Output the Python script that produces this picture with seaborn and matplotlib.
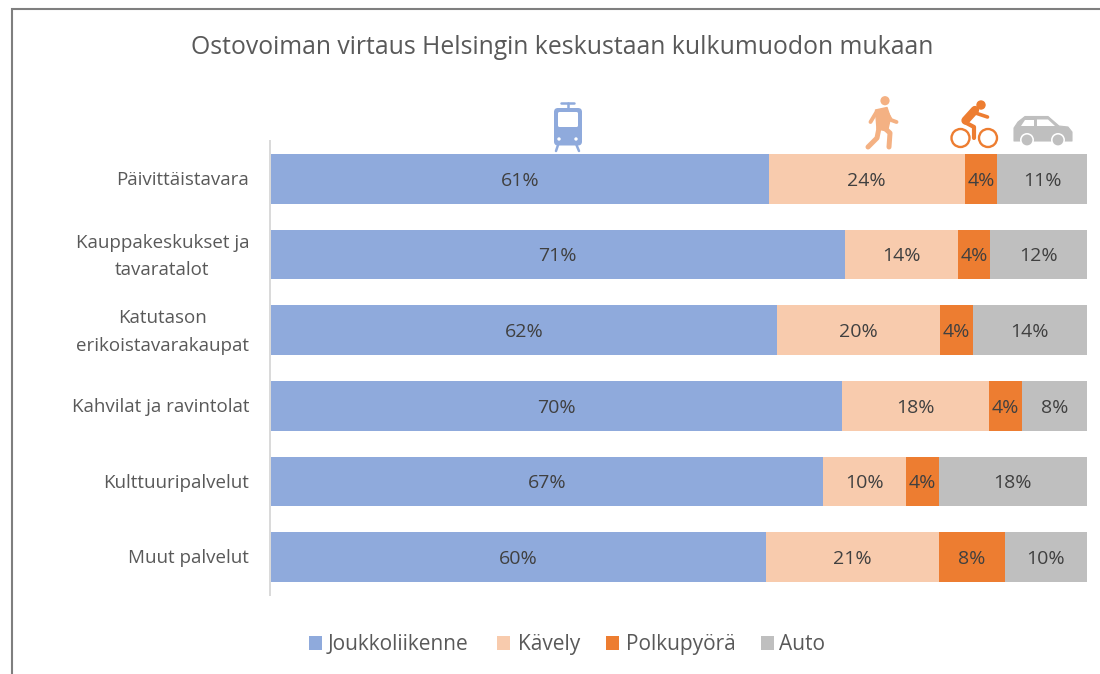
import numpy as np
import matplotlib
matplotlib.use("Agg")
import matplotlib.pyplot as plt
import seaborn as sns
from matplotlib.patches import Rectangle, Circle, FancyBboxPatch, Polygon
from matplotlib.transforms import Affine2D

categories = ["Päivittäistavara", "Kauppakeskukset ja\ntavaratalot", "Katutason\nerikoistavarakaupat",
              "Kahvilat ja ravintolat", "Kulttuuripalvelut", "Muut palvelut"]
joukkoliikenne = [61, 71, 62, 70, 67, 60]
kavely = [24, 14, 20, 18, 10, 21]
polkupyora = [4, 4, 4, 4, 4, 8]
auto = [11, 12, 14, 8, 18, 10]
series_names = ["Joukkoliikenne", "Kävely", "Polkupyörä", "Auto"]
colors = ["#8FAADC", "#F8CBAD", "#ED7D31", "#BFBFBF"]
title = "Ostovoiman virtaus Helsingin keskustaan kulkumuodon mukaan"

sns.set_theme(style="white")
plt.rcParams["font.family"] = ["Open Sans", "DejaVu Sans"]
TXT = "#595959"

W, H = 1100, 674
fig = plt.figure(figsize=(W / 100, H / 100), dpi=100, facecolor="white")
ax = fig.add_axes([271 / W, (H - 595) / H, 816 / W, 454 / H])

raw = np.array([joukkoliikenne, kavely, polkupyora, auto], dtype=float)
shares = raw / raw.sum(axis=0) * 100
left = np.zeros(len(categories))
for name, col, vals, rawv in zip(series_names, colors, shares, raw):
    sns.barplot(y=categories, x=vals, left=left, color=col, width=0.66, saturation=1,
                orient="y", ax=ax, linewidth=0, label=name, legend=False)
    for i, (v, l, r) in enumerate(zip(vals, left, rawv)):
        ax.text(l + v / 2, i + 0.025, f"{r:.0f}%", ha="center", va="center", fontsize=14, color="#404040")
    left = left + vals

ax.set_xlim(0, 100)
ax.set_ylim(5.5, -0.5)
ax.set_xlabel(""); ax.set_ylabel("")
ax.set_xticks([])
ax.tick_params(axis="y", length=0, pad=15, labelsize=13.5, labelcolor=TXT)
for s in ["top", "right", "bottom"]:
    ax.spines[s].set_visible(False)
ax.spines["left"].set_color("#D9D9D9")
ax.spines["left"].set_linewidth(1.4)
ax.spines["left"].set_position(("outward", 0.7))

fig.text(562.5 / W, 1 - 48 / H, title, ha="center", va="center", fontsize=17.85, color=TXT)

handles = [Rectangle((0, 0), 1, 1, fc=c, ec="none") for c in colors]
leg = fig.legend(handles, series_names, loc="center", bbox_to_anchor=(566.5 / W, 1 - 642 / H), ncol=4, frameon=False,
                 fontsize=15, labelcolor=TXT, handlelength=0.62, handleheight=0.66, handletextpad=0.33,
                 columnspacing=1.28, borderpad=0)

fig.canvas.draw()

# category labels: lines centred in a block whose right edge is fixed
for lab in ax.get_yticklabels():
    lab.set_linespacing(1.67)
fig.canvas.draw()
for lab in ax.get_yticklabels():
    w = lab.get_window_extent().width
    tr = lab.get_transform()
    lab.set_horizontalalignment("center")
    lab.set_transform(tr + Affine2D().translate(-w / 2, 1 + 4 * lab.get_text().count("\n")))

# put every legend entry on one baseline, at the reference's pixel places
handle_left = [308.6, 497, 605.7, 761]
text_left = [327.5, 518, 626.5, 779]
baseline = H - 650
for t, p, hx, tx in zip(leg.get_texts(), leg.get_patches(), handle_left, text_left):
    tr = t.get_transform()
    dx = tx - t.get_window_extent().x0
    dy = baseline - tr.transform(t.get_position())[1]
    t.set_transform(tr + Affine2D().translate(dx, dy))
    ext = p.get_window_extent()
    p.set_transform(p.get_data_transform() + Affine2D().translate(hx - ext.x0, baseline - ext.y0))

# overlay in reference pixels for the frame and the icons
ov = fig.add_axes([0, 0, 1, 1], facecolor="none")
ov.set_xlim(0, W); ov.set_ylim(H, 0); ov.axis("off")
ov.plot([11.5, 11.5, 1100], [H, 8.5, 8.5], color="#7F7F7F", lw=1.5, solid_capstyle="butt", solid_joinstyle="miter")

# tram
c = colors[0]
ov.add_patch(FancyBboxPatch((554, 108), 28, 37.5, boxstyle="round,pad=0,rounding_size=4", fc=c, ec="none"))
ov.add_patch(FancyBboxPatch((558, 112), 20, 15, boxstyle="round,pad=0,rounding_size=1.5", fc="white", ec="none"))
ov.plot([561, 574], [103, 103], color=c, lw=1.8)
ov.plot([567.5, 567.5], [103, 109], color=c, lw=1.8)
ov.plot([558, 556], [145, 151], color=c, lw=1.8)
ov.plot([576.5, 579], [145, 151], color=c, lw=1.8)
ov.add_patch(Circle((559, 139), 1.7, fc="white", ec="none"))
ov.add_patch(Circle((576, 139), 1.7, fc="white", ec="none"))

# pedestrian
c = "#F4B183"
ov.add_patch(Circle((885, 100.7), 4.6, fc=c, ec="none"))
ov.add_patch(Polygon([(875.5, 110), (887, 107.5), (890.5, 118), (887.5, 131), (877, 129)], fc=c, ec=c, lw=1, joinstyle="round"))
for xs, ys, lw in [((876.5, 870.5), (112, 122), 2.8), ((887.5, 891, 896.5), (114, 120, 122), 2.8),
                   ((884.5, 890, 889), (128, 133, 147), 3.6), ((879, 877, 868), (128, 138, 147), 3.6)]:
    ov.plot(xs, ys, color=c, lw=lw, solid_capstyle="round", solid_joinstyle="round")

# bicycle
c = colors[2]
ov.add_patch(Circle((981, 105), 4.7, fc=c, ec="none"))
ov.add_patch(Circle((960.5, 138), 9, fc="none", ec=c, lw=1.7))
ov.add_patch(Circle((988, 138), 9, fc="none", ec=c, lw=1.7))
ov.plot([965.5, 975], [120.5, 110], color=c, lw=6, solid_capstyle="round")
ov.plot([975.5, 987.5], [113, 117], color=c, lw=2.6, solid_capstyle="round")
ov.plot([964.5, 974, 974], [122, 127, 138], color=c, lw=3, solid_capstyle="round", solid_joinstyle="round")

# car
c = colors[3]
ov.add_patch(Polygon([(1014, 141), (1014, 128), (1018, 122), (1025, 116.5), (1048, 116.5), (1059, 126),
                      (1068, 127), (1072, 132), (1072, 141)], fc=c, ec=c, lw=0.8, joinstyle="round"))
ov.add_patch(Polygon([(1025, 119.5), (1034, 119.5), (1034, 126), (1021, 126)], fc="white", ec="none"))
ov.add_patch(Polygon([(1037, 119.5), (1048, 119.5), (1055, 126), (1037, 126)], fc="white", ec="none"))
for cx in (1027, 1058):
    ov.add_patch(Circle((cx, 140), 7, fc="white", ec="none"))
    ov.add_patch(Circle((cx, 140), 5.4, fc=c, ec="none"))

fig.savefig("out.png", dpi=100)
